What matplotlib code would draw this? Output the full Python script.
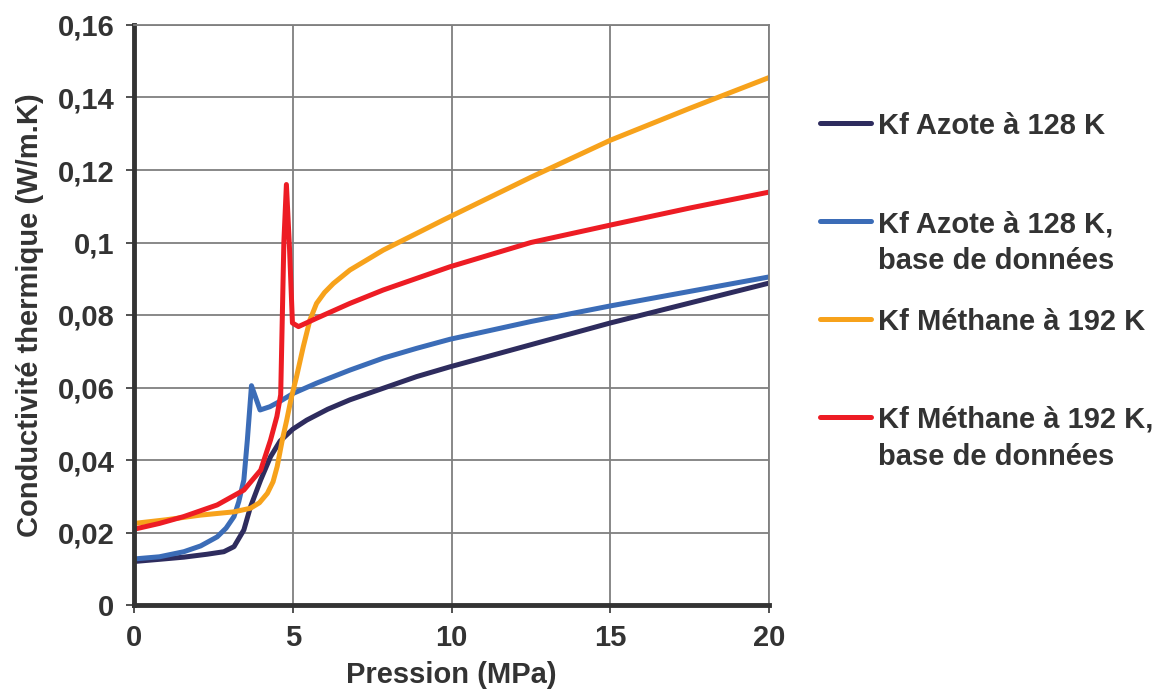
import matplotlib
matplotlib.use("Agg")
import matplotlib.pyplot as plt
from matplotlib.lines import Line2D

# pressure (MPa) / thermal conductivity (W/m.K)
p_azote = [0, 0.8, 1.57, 2.3, 2.83, 3.15, 3.46, 3.67, 3.99, 4.3, 4.6, 5.0, 5.44, 6.1, 6.8, 7.85, 8.9, 9.95, 12.5, 15, 17.5, 20]
k_azote = [0.0120, 0.0126, 0.0132, 0.0140, 0.0147, 0.0161, 0.0207, 0.0271, 0.0345, 0.0409, 0.0452, 0.0485, 0.0510, 0.0540, 0.0566, 0.0598, 0.0630, 0.0657, 0.0718, 0.0778, 0.0833, 0.0888]

p_azote_db = [0, 0.8, 1.57, 2.1, 2.62, 2.9, 3.15, 3.3, 3.46, 3.57, 3.7, 3.97, 4.28, 4.6, 5.02, 5.75, 6.8, 7.85, 8.9, 9.95, 12.5, 15, 17.5, 20]
k_azote_db = [0.0127, 0.0133, 0.0147, 0.0163, 0.0188, 0.0212, 0.0244, 0.0285, 0.0345, 0.0455, 0.0605, 0.0538, 0.0547, 0.0562, 0.0584, 0.0612, 0.0648, 0.0681, 0.0708, 0.0733, 0.0782, 0.0825, 0.0865, 0.0905]

p_methane = [0, 1, 2.1, 3.15, 3.67, 3.95, 4.2, 4.38, 4.51, 4.67, 4.81, 4.95, 5.12, 5.33, 5.54, 5.75, 6.0, 6.28, 6.8, 7.85, 8.9, 9.74, 12.5, 15, 17.5, 20]
k_methane = [0.0225, 0.0235, 0.0248, 0.0257, 0.0267, 0.0282, 0.0308, 0.0340, 0.0382, 0.0455, 0.0510, 0.0570, 0.0630, 0.0712, 0.0786, 0.0832, 0.0862, 0.0887, 0.0924, 0.0979, 0.1025, 0.1062, 0.1180, 0.1282, 0.1370, 0.1455]

p_methane_db = [0, 0.8, 1.57, 2.62, 3.46, 3.99, 4.3, 4.5, 4.62, 4.72, 4.8, 4.9, 4.99, 5.18, 5.75, 6.8, 7.85, 8.9, 9.95, 12.5, 15, 17.5, 20]
k_methane_db = [0.0209, 0.0225, 0.0244, 0.0276, 0.0317, 0.0372, 0.0455, 0.0520, 0.0580, 0.1000, 0.1160, 0.0980, 0.0778, 0.0768, 0.0791, 0.0832, 0.0869, 0.0901, 0.0933, 0.1000, 0.1048, 0.1095, 0.1139]

labels = ["Kf Azote à 128 K",
          "Kf Azote à 128 K,\nbase de données",
          "Kf Méthane à 192 K",
          "Kf Méthane à 192 K,\nbase de données"]
colors = ["#2e2c5e", "#3b6cb7", "#f7a21b", "#ed1c24"]

x_ticks = [0, 5, 10, 15, 20]
y_ticks = [0, 0.02, 0.04, 0.06, 0.08, 0.1, 0.12, 0.14, 0.16]
y_ticklabels = ["0", "0,02", "0,04", "0,06", "0,08", "0,1", "0,12", "0,14", "0,16"]

plt.rcParams["font.family"] = ["Liberation Sans", "DejaVu Sans"]
plt.rcParams["font.weight"] = "bold"
txt_col = "#333333"

W, H = 1161, 699
fig = plt.figure(figsize=(W / 100, H / 100), dpi=100)
ax = fig.add_axes([134 / W, 1 - 605 / H, (769 - 134) / W, (605 - 25) / H])

series = [(p_azote, k_azote), (p_azote_db, k_azote_db),
          (p_methane, k_methane), (p_methane_db, k_methane_db)]
for (p, k), c in zip(series, colors):
    ax.plot(p, k, color=c, lw=3.6, solid_joinstyle="round", solid_capstyle="round")

ax.set_xlim(0, 20)
ax.set_ylim(0, 0.16)
ax.set_xticks(x_ticks)
ax.set_xticklabels([str(t) for t in x_ticks])
ax.set_yticks(y_ticks)
ax.set_yticklabels(y_ticklabels)
ax.grid(True, color="#7f7f7f", lw=1.3)
ax.set_axisbelow(True)
ax.tick_params(labelsize=21, colors=txt_col, length=6, width=1.2, pad=8)
for lab in ax.get_xticklabels() + ax.get_yticklabels():
    lab.set_fontweight("bold")
    lab.set_color(txt_col)

ax.spines["left"].set_linewidth(3.5)
ax.spines["bottom"].set_linewidth(3.5)
ax.spines["left"].set_color("#333333")
ax.spines["bottom"].set_color("#333333")
ax.spines["top"].set_color("#7f7f7f")
ax.spines["right"].set_color("#7f7f7f")
ax.spines["top"].set_linewidth(1.3)
ax.spines["right"].set_linewidth(1.3)

ax.set_xlabel("Pression (MPa)", fontsize=21, fontweight="bold", color=txt_col, labelpad=6)
ax.set_ylabel("Conductivité thermique (W/m.K)", fontsize=21, fontweight="bold", color=txt_col, labelpad=10)

# legend drawn on the right, like the original
leg_y = [123, 221, 319, 417]
for lab, c, y in zip(labels, colors, leg_y):
    fig.add_artist(Line2D([820 / W, 871 / W], [1 - y / H, 1 - y / H], color=c, lw=3.6,
                          solid_capstyle="round", transform=fig.transFigure))
    fig.text(878 / W, 1 - (y - 11) / H, lab, fontsize=21, fontweight="bold", color=txt_col,
             va="top", ha="left", linespacing=1.4)

fig.savefig("out.png", dpi=100)
